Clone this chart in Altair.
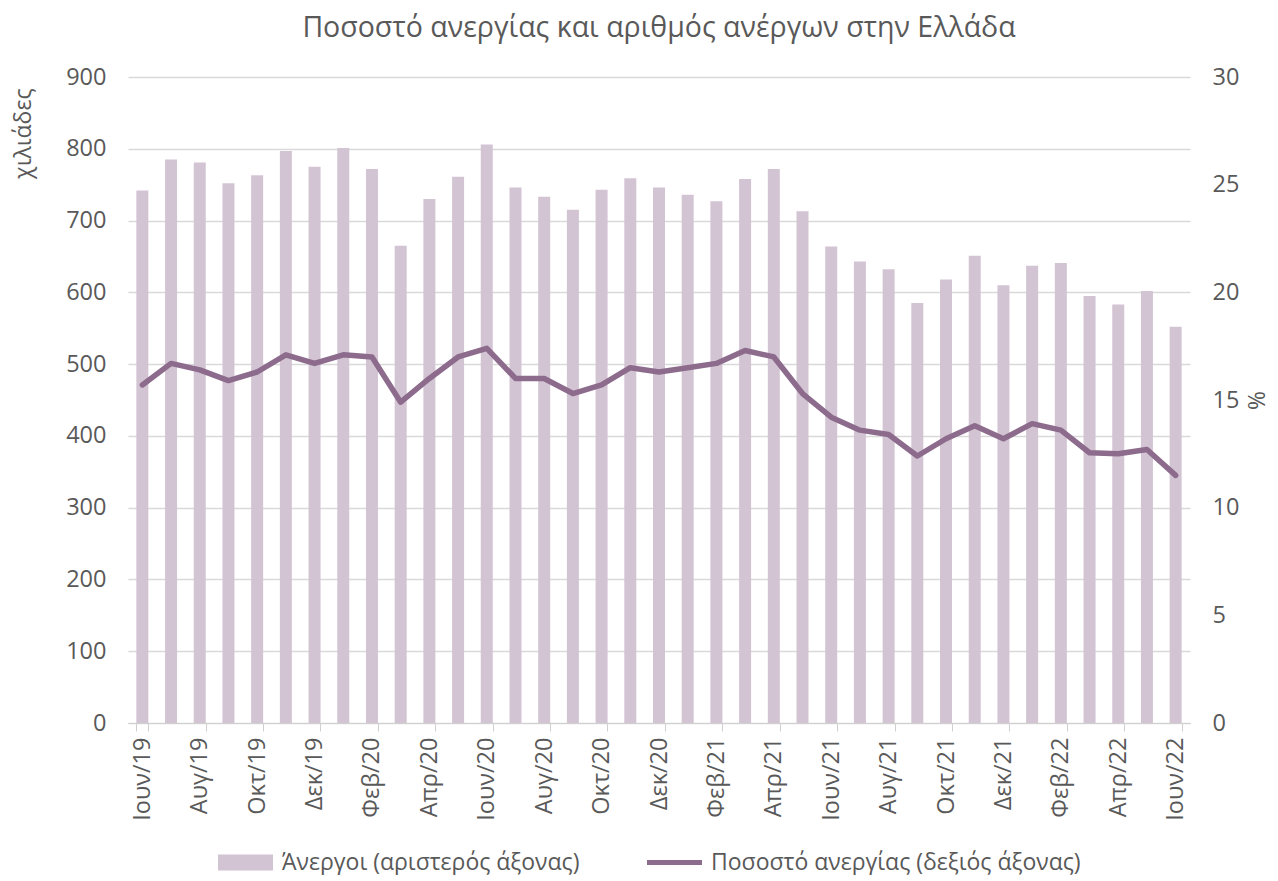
import altair as alt
import pandas as pd

months = [
    "Ιουν/19", "Ιουλ/19", "Αυγ/19", "Σεπ/19", "Οκτ/19", "Νοε/19", "Δεκ/19",
    "Ιαν/20", "Φεβ/20", "Μαρ/20", "Απρ/20", "Μαϊ/20", "Ιουν/20", "Ιουλ/20",
    "Αυγ/20", "Σεπ/20", "Οκτ/20", "Νοε/20", "Δεκ/20", "Ιαν/21", "Φεβ/21",
    "Μαρ/21", "Απρ/21", "Μαϊ/21", "Ιουν/21", "Ιουλ/21", "Αυγ/21", "Σεπ/21",
    "Οκτ/21", "Νοε/21", "Δεκ/21", "Ιαν/22", "Φεβ/22", "Μαρ/22", "Απρ/22",
    "Μαϊ/22", "Ιουν/22",
]
unemployed = [
    742, 785, 781, 752, 763, 797, 775, 801, 772, 665, 730, 761, 806, 746,
    733, 715, 743, 759, 746, 736, 727, 758, 772, 713, 664, 643, 632, 585,
    618, 651, 610, 637, 641, 595, 583, 602, 552,
]
rate = [
    15.7, 16.7, 16.4, 15.9, 16.3, 17.1, 16.7, 17.1, 17.0, 14.9, 16.0, 17.0,
    17.4, 16.0, 16.0, 15.3, 15.7, 16.5, 16.3, 16.5, 16.7, 17.3, 17.0, 15.3,
    14.2, 13.6, 13.4, 12.4, 13.2, 13.8, 13.2, 13.9, 13.6, 12.55, 12.5, 12.7,
    11.5,
]
series_bar = "Άνεργοι (αριστερός άξονας)"
series_line = "Ποσοστό ανεργίας (δεξιός άξονας)"
title_text = "Ποσοστό ανεργίας και αριθμός ανέργων στην Ελλάδα"

df = pd.DataFrame({
    "month": months,
    "unemployed": unemployed,
    "rate": rate,
    "s1": series_bar,
    "s2": series_line,
})

FONT = "Open Sans"
TXT = "#595959"
BAR = "#D3C4D3"
LINE = "#8C6B8C"

x = alt.X(
    "month:N",
    sort=months,
    title=None,
    scale=alt.Scale(paddingInner=0.59, paddingOuter=0.295),
    axis=alt.Axis(
        values=months[::2],
        labelAngle=270,
        labelAlign="right",
        labelBaseline="middle",
        tickBand="extent",
        domainColor="#D0D0D0",
        tickColor="#D0D0D0",
        tickSize=8,
        labelPadding=6,
        grid=False,
    ),
)

bars = alt.Chart(df).mark_bar(size=12).encode(
    x=x,
    y=alt.Y(
        "unemployed:Q",
        scale=alt.Scale(domain=[0, 900]),
        axis=alt.Axis(
            values=list(range(0, 901, 100)),
            title="χιλιάδες",
            titleAnchor="end",
            titleAngle=270,
            titleY=11,
            titlePadding=30,
            domain=False,
            ticks=False,
            grid=True,
            gridColor="#D9D9D9",
            gridWidth=1.5,
            labelPadding=22,
        ),
    ),
    color=alt.Color(
        "s1:N",
        scale=alt.Scale(range=[BAR]),
        legend=alt.Legend(
            title=None,
            orient="none",
            legendX=106,
            legendY=774,
            symbolType="M-5.5,-1.6L5.5,-1.6L5.5,1.6L-5.5,1.6Z",
            symbolSize=100,
            symbolStrokeWidth=0,
            labelOffset=25,
            labelLimit=0,
        ),
    ),
)

line = alt.Chart(df).mark_line(strokeWidth=5.5, strokeJoin="round", strokeCap="round").encode(
    x=x,
    y=alt.Y(
        "rate:Q",
        scale=alt.Scale(domain=[0, 30]),
        axis=alt.Axis(
            orient="right",
            values=[0, 5, 10, 15, 20, 25, 30],
            title="%",
            titlePadding=4,
            domain=False,
            ticks=False,
            grid=False,
            labelPadding=22,
        ),
    ),
    stroke=alt.Stroke(
        "s2:N",
        scale=alt.Scale(range=[LINE]),
        legend=alt.Legend(
            title=None,
            orient="none",
            legendX=535,
            legendY=774,
            symbolType="M-5.5,0L5.5,0",
            symbolSize=100,
            symbolStrokeWidth=5,
            labelOffset=25,
            labelLimit=0,
        ),
    ),
)

chart = (
    alt.layer(bars, line)
    .resolve_scale(y="independent", color="independent", stroke="independent")
    .properties(
        width=1062,
        height=646,
        padding={"left": 4, "top": 5, "right": 0, "bottom": 0},
        title=alt.TitleParams(
            title_text,
            font=FONT,
            fontSize=28.5,
            fontWeight="normal",
            color=TXT,
            anchor="middle",
            offset=23,
        ),
    )
    .configure_view(stroke=None)
    .configure_axis(
        labelFont=FONT,
        labelFontSize=23.5,
        labelColor=TXT,
        titleFont=FONT,
        titleFontSize=23,
        titleColor=TXT,
        titleFontWeight="normal",
    )
    .configure_legend(
        labelFont=FONT,
        labelFontSize=23,
        labelColor=TXT,
        padding=0,
    )
)

chart.save("out.html", embed_options={"renderer": "svg", "actions": False})
